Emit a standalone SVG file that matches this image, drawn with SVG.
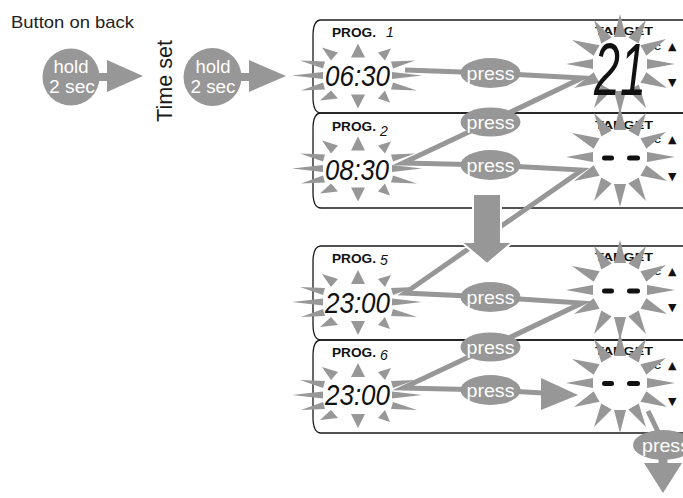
<svg xmlns="http://www.w3.org/2000/svg" width="683" height="498" viewBox="0 0 683 498">
<style>
.g{fill:#979797}
.panel{fill:none;stroke:#1a1a1a;stroke-width:1.3}
.sans{font-family:"Liberation Sans",Arial,sans-serif}
.lbl{fill:#222;font-size:17px}
.w{fill:#fff;font-size:18px}
.pw{fill:#fff;font-size:19px}
.conn{fill:none;stroke:#979797;stroke-width:5;stroke-linejoin:miter;stroke-miterlimit:12}
.prog{font-weight:bold;font-size:12px;fill:#111}
.pn{font-style:italic;font-size:14px;fill:#111}
.time{font-style:italic;font-size:29px;fill:#111}
.big{font-style:italic;font-size:74px;fill:#111}
.tgt{font-weight:bold;font-size:11px;fill:#111}
.unit{font-weight:bold;font-size:9px;fill:#111}
.arr{font-family:"DejaVu Sans",sans-serif;font-size:11px;fill:#111}
.dash{fill:#111}
</style>
<defs>
<g id="tb" class="g">
<polygon points="-7,-18 7,-18 0,-32"/>
<polygon points="-7,19 7,19 0,33"/>
<polygon points="-35,-3.5 -35,3.5 -66,0"/>
<polygon points="34,-3.5 34,3.5 64,0"/>
<polygon points="-33,-14 -35,-7 -58,-15"/>
<polygon points="-33,14 -35,7 -57,15"/>
<polygon points="33,-14 35,-7 57,-15"/>
<polygon points="33,14 35,7 59,15"/>
<polygon points="-20,-23 -27,-15 -36,-28"/>
<polygon points="20,-23 27,-15 33,-27"/>
<polygon points="-20,23 -27,15 -38,25"/>
<polygon points="20,23 27,15 32,27"/>
</g>
<g id="pb" class="g">
<polygon points="27,-5 27,5 55,0"/>
<polygon points="-27,-5 -27,5 -54,0"/>
<polygon points="-6,27 6,27 0,50"/>
<polygon points="-6,-27 6,-27 0,-50"/>
<polygon points="20.4,18.7 26.4,8.3 47,24"/>
<polygon points="8.3,26.4 18.7,20.4 26,44"/>
<polygon points="-8.3,26.4 -18.7,20.4 -26,44"/>
<polygon points="-20.4,18.7 -26.4,8.3 -46,24"/>
<polygon points="20.4,-18.7 26.4,-8.3 46,-25"/>
<polygon points="8.3,-26.4 18.7,-20.4 26,-44"/>
<polygon points="-8.3,-26.4 -18.7,-20.4 -26,-44"/>
<polygon points="-20.4,-18.7 -26.4,-8.3 -48,-24"/>
</g>
</defs>

<text class="sans lbl" x="11" y="28" textLength="123" lengthAdjust="spacingAndGlyphs">Button on back</text>
<text class="sans" fill="#1a1a1a" font-size="22" text-anchor="middle" transform="translate(172,81) rotate(-90)" textLength="82" lengthAdjust="spacingAndGlyphs">Time set</text>

<g id="hold1">
<circle class="g" cx="71" cy="77" r="28.5"/>
<text class="sans w" x="71" y="72.5" text-anchor="middle" textLength="35" lengthAdjust="spacingAndGlyphs">hold</text>
<text class="sans w" x="72" y="92.5" text-anchor="middle" textLength="46" lengthAdjust="spacingAndGlyphs">2 sec</text>
</g>
<g id="hold2">
<circle class="g" cx="212.5" cy="77" r="29"/>
<text class="sans w" x="213" y="72.5" text-anchor="middle" textLength="35" lengthAdjust="spacingAndGlyphs">hold</text>
<text class="sans w" x="213" y="92.5" text-anchor="middle" textLength="45" lengthAdjust="spacingAndGlyphs">2 sec</text>
</g>

<g id="prog1">
<path class="panel" d="M683,20 H321 C315,20 313,28 313,36 V97 C313,105 315,113 321,113 H683"/>
<text class="sans prog" x="332" y="37" textLength="44" lengthAdjust="spacingAndGlyphs">PROG.</text>
<text class="sans pn" x="386" y="37">1</text>
<text class="sans tgt" x="595" y="35" textLength="58" lengthAdjust="spacingAndGlyphs">TARGET</text>
<text class="sans unit" x="650" y="50" textLength="11" lengthAdjust="spacingAndGlyphs">°C</text>
<use href="#tb" x="358" y="75.5"/>
<use href="#pb" x="620" y="64"/>
<text class="sans time" x="325" y="86" textLength="65" lengthAdjust="spacingAndGlyphs">06:30</text>
<text class="sans big" x="594" y="95" textLength="52" lengthAdjust="spacingAndGlyphs">21</text>
<text class="arr" x="668" y="49.5">▲</text>
<text class="arr" x="668" y="85.5">▼</text>
</g>

<g id="prog2">
<path class="panel" d="M683,113 H321 C315,113 313,121 313,129 V192 C313,200 315,208 321,208 H683"/>
<text class="sans prog" x="332" y="130.5" textLength="44" lengthAdjust="spacingAndGlyphs">PROG.</text>
<text class="sans pn" x="380" y="136">2</text>
<text class="sans tgt" x="595" y="129" textLength="58" lengthAdjust="spacingAndGlyphs">TARGET</text>
<text class="sans unit" x="650" y="143" textLength="11" lengthAdjust="spacingAndGlyphs">°C</text>
<use href="#tb" x="358" y="168.5"/>
<use href="#pb" x="620" y="157"/>
<text class="sans time" x="325" y="180" textLength="64" lengthAdjust="spacingAndGlyphs">08:30</text>
<rect class="dash" x="602" y="155.5" width="12" height="5" rx="2.5"/>
<rect class="dash" x="627" y="155.5" width="13" height="5" rx="2.5"/>
<text class="arr" x="668" y="143">▲</text>
<text class="arr" x="668" y="180">▼</text>
</g>

<g id="prog5">
<path class="panel" d="M683,246 H321 C315,246 313,254 313,262 V324 C313,332 315,340 321,340 H683"/>
<text class="sans prog" x="332" y="262.5" textLength="44" lengthAdjust="spacingAndGlyphs">PROG.</text>
<text class="sans pn" x="380" y="265">5</text>
<text class="sans tgt" x="595" y="261" textLength="58" lengthAdjust="spacingAndGlyphs">TARGET</text>
<text class="sans unit" x="650" y="275" textLength="11" lengthAdjust="spacingAndGlyphs">°C</text>
<use href="#tb" x="358" y="302"/>
<use href="#pb" x="620" y="290"/>
<text class="sans time" x="325" y="313" textLength="65" lengthAdjust="spacingAndGlyphs">23:00</text>
<rect class="dash" x="602" y="288.5" width="12" height="5" rx="2.5"/>
<rect class="dash" x="627" y="288.5" width="13" height="5" rx="2.5"/>
<text class="arr" x="668" y="275">▲</text>
<text class="arr" x="668" y="311">▼</text>
</g>

<g id="prog6">
<path class="panel" d="M683,340 H321 C315,340 313,348 313,356 V417 C313,425 315,433 321,433 H683"/>
<text class="sans prog" x="332" y="357" textLength="44" lengthAdjust="spacingAndGlyphs">PROG.</text>
<text class="sans pn" x="380" y="360">6</text>
<text class="sans tgt" x="595" y="355" textLength="58" lengthAdjust="spacingAndGlyphs">TARGET</text>
<text class="sans unit" x="650" y="369" textLength="11" lengthAdjust="spacingAndGlyphs">°C</text>
<use href="#tb" x="358" y="395"/>
<use href="#pb" x="620" y="383"/>
<text class="sans time" x="325" y="405" textLength="65" lengthAdjust="spacingAndGlyphs">23:00</text>
<rect class="dash" x="602" y="381" width="12" height="5" rx="2.5"/>
<rect class="dash" x="627" y="381" width="13" height="5" rx="2.5"/>
<text class="arr" x="668" y="369">▲</text>
<text class="arr" x="668" y="405">▼</text>
</g>

<g id="connectors">
<rect class="g" x="97" y="73" width="12" height="8"/>
<polygon class="g" points="107,60 107,92 143,76"/>
<rect class="g" x="239" y="73" width="12" height="8"/>
<polygon class="g" points="249,60 249,92 286,76"/>
<polyline class="conn" points="405,70 490,73 582,78 490,122 403,163 490,165 582,170 405,293 490,297 582,303 490,347 403,388 490,390 543,393"/>
<polygon class="g" points="541,378 541,410 578,395"/>
<line class="conn" x1="648" y1="411" x2="662" y2="440"/>
<rect class="g" x="658.5" y="456" width="9" height="9"/>
<polygon class="g" points="644,463 682,463 663,493"/>
</g>

<g id="press1"><ellipse class="g" cx="490.5" cy="73" rx="30" ry="15"/><text class="sans pw" x="490.5" y="79.5" text-anchor="middle" textLength="48" lengthAdjust="spacingAndGlyphs">press</text></g>
<g id="press2"><ellipse class="g" cx="490.5" cy="122" rx="30" ry="14.5"/><text class="sans pw" x="490.5" y="128.5" text-anchor="middle" textLength="48" lengthAdjust="spacingAndGlyphs">press</text></g>
<g id="press3"><ellipse class="g" cx="490.5" cy="165" rx="30" ry="15"/><text class="sans pw" x="490.5" y="171.5" text-anchor="middle" textLength="48" lengthAdjust="spacingAndGlyphs">press</text></g>
<g id="press4"><ellipse class="g" cx="490.5" cy="297" rx="30" ry="15"/><text class="sans pw" x="490.5" y="303.5" text-anchor="middle" textLength="48" lengthAdjust="spacingAndGlyphs">press</text></g>
<g id="press5"><ellipse class="g" cx="490.5" cy="347" rx="30" ry="14.5"/><text class="sans pw" x="490.5" y="353.5" text-anchor="middle" textLength="48" lengthAdjust="spacingAndGlyphs">press</text></g>
<g id="press6"><ellipse class="g" cx="490.5" cy="390" rx="30" ry="15"/><text class="sans pw" x="490.5" y="396.5" text-anchor="middle" textLength="48" lengthAdjust="spacingAndGlyphs">press</text></g>
<g id="press7"><ellipse class="g" cx="663" cy="445" rx="30" ry="15"/><text class="sans pw" x="666" y="451.5" text-anchor="middle" textLength="48" lengthAdjust="spacingAndGlyphs">press</text></g>

<g id="next">
<polygon class="g" stroke="#fff" stroke-width="2" points="473,194 501,194 501,242 513,242 487,264 461,242 473,242"/>
</g>
</svg>
